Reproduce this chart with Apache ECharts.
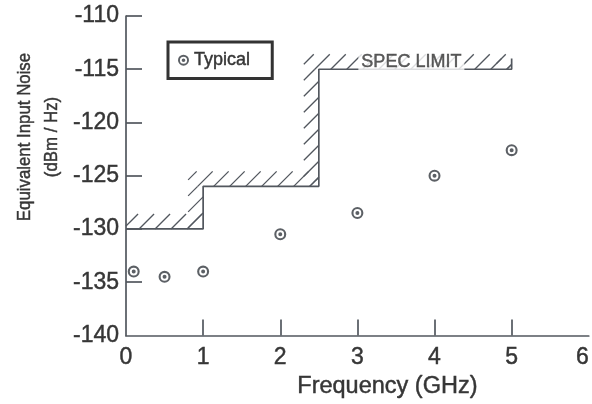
<!DOCTYPE html>
<html>
<head>
<meta charset="utf-8">
<script src="https://cdn.jsdelivr.net/npm/echarts@6/dist/echarts.min.js"></script>
<style>
  html, body { margin: 0; padding: 0; background: #ffffff; }
  #chart { width: 592px; height: 404px; }
</style>
</head>
<body>
<div id="chart"></div>
<script>
// Measured equivalent input noise (typical units)
const freqGHz = [0.1, 0.5, 1, 2, 3, 4, 5];
const noiseDbmHz = [-134, -134.5, -134, -130.5, -128.5, -125, -122.6];

// Specification limit, drawn as a stepped boundary
const specFreq = [0, 1, 1, 2.5, 2.5, 5, 5];
const specLimit = [-130, -130, -126, -126, -115, -115, -114];

// Axis tick values
const xTickValues = [0, 1, 2, 3, 4, 5, 6];
const yTickValues = [-140, -135, -130, -125, -120, -115, -110];

const FONT = '"Liberation Sans", Arial, Helvetica, sans-serif';
const TEXT = '#363636';
const LINE = '#52575e';
// a hair of outline gives the lettering a slightly heavier, printed look
const INK = { textBorderColor: TEXT, textBorderWidth: 0.45 };

// bullseye marker: outer ring, hollow middle, centre dot
const BULLSEYE = 'path://M0,6A6,6,0,1,1,12,6A6,6,0,1,1,0,6Z' +
  'M2.1,6A3.9,3.9,0,1,0,9.9,6A3.9,3.9,0,1,0,2.1,6Z' +
  'M4,6A2,2,0,1,1,8,6A2,2,0,1,1,4,6Z';

const specPoints = specFreq.map((f, i) => [f, specLimit[i]]);
const specSegments = [];
for (let i = 0; i < specPoints.length - 1; i++) {
  specSegments.push([specPoints[i][0], specPoints[i][1], specPoints[i + 1][0], specPoints[i + 1][1]]);
}

// Hatch band on the "failing" side (above / left) of each spec segment
const HATCH_W = 15;
const HATCH_STEP = 16;
function renderHatch(params, api) {
  const a = api.coord([api.value(0), api.value(1)]);
  const b = api.coord([api.value(2), api.value(3)]);
  const left = params.coordSys.x;
  let x0, x1, y0, y1;
  if (Math.abs(a[1] - b[1]) < 0.5) {
    x0 = Math.max(left, Math.min(a[0], b[0]) - HATCH_W);
    x1 = Math.max(a[0], b[0]);
    y0 = a[1] - HATCH_W;
    y1 = a[1];
  } else {
    x0 = a[0] - HATCH_W;
    x1 = a[0];
    y0 = Math.min(a[1], b[1]);
    y1 = Math.max(a[1], b[1]);
  }
  const children = [];
  const cStart = Math.ceil((x0 + y0) / HATCH_STEP) * HATCH_STEP;
  for (let c = cStart; c <= x1 + y1; c += HATCH_STEP) {
    const xs = Math.max(x0, c - y1);
    const xe = Math.min(x1, c - y0);
    if (xe > xs + 0.5) {
      children.push({
        type: 'line',
        shape: { x1: xs, y1: c - xs, x2: xe, y2: c - xe },
        style: { stroke: LINE, lineWidth: 1.3 }
      });
    }
  }
  return { type: 'group', children: children };
}

const chart = echarts.init(document.getElementById('chart'), null, { renderer: 'canvas' });

chart.setOption({
  backgroundColor: '#ffffff',
  animation: false,
  textStyle: { fontFamily: FONT },
  grid: { left: 126, right: 1, top: 16, bottom: 68 },
  legend: {
    left: 168,
    top: 42,
    data: [{ name: 'Typical', icon: BULLSEYE }],
    itemWidth: 11,
    itemHeight: 11,
    padding: [9, 22, 9, 10],
    borderColor: '#333333',
    borderWidth: 3,
    borderRadius: 0,
    backgroundColor: '#ffffff',
    textStyle: Object.assign({ fontFamily: FONT, fontSize: 18, color: TEXT }, INK),
    selectedMode: false
  },
  xAxis: {
    type: 'value',
    min: xTickValues[0],
    max: xTickValues[xTickValues.length - 1],
    interval: 1,
    name: 'Frequency (GHz)',
    nameLocation: 'middle',
    nameGap: 38,
    nameTextStyle: Object.assign({ fontFamily: FONT, fontSize: 23.5, color: TEXT,
      padding: [0, 0, 0, 60] }, INK),
    axisLine: { lineStyle: { color: LINE, width: 1.7 } },
    axisTick: { inside: true, length: 16, lineStyle: { color: LINE, width: 1.7 },
      customValues: xTickValues.slice(1, -1) },
    axisLabel: Object.assign({ fontFamily: FONT, fontSize: 23, color: TEXT, margin: 11,
      alignMaxLabel: 'right' }, INK),
    splitLine: { show: false }
  },
  yAxis: {
    type: 'value',
    min: yTickValues[0],
    max: yTickValues[yTickValues.length - 1],
    interval: 5,
    axisLine: { show: true, lineStyle: { color: LINE, width: 1.7 } },
    axisTick: { show: true, inside: true, length: 16, lineStyle: { color: LINE, width: 1.7 },
      customValues: yTickValues.slice(1) },
    axisLabel: Object.assign({ fontFamily: FONT, fontSize: 23, color: TEXT, margin: 7 }, INK),
    splitLine: { show: false }
  },
  graphic: [{
    type: 'text',
    x: 38,
    y: 137,
    rotation: Math.PI / 2,
    scaleX: 0.885,
    style: Object.assign({
      text: 'Equivalent Input Noise\n(dBm / Hz)',
      fontFamily: FONT,
      fontSize: 19,
      lineHeight: 27,
      fill: TEXT,
      stroke: TEXT,
      lineWidth: 0.45,
      align: 'center',
      verticalAlign: 'middle'
    })
  }],
  series: [
    {
      name: 'SpecHatch',
      type: 'custom',
      silent: true,
      z: 1,
      renderItem: renderHatch,
      data: specSegments
    },
    {
      name: 'Spec Limit',
      type: 'line',
      silent: true,
      z: 2,
      symbol: 'none',
      lineStyle: { color: LINE, width: 1.7 },
      data: specPoints
    },
    {
      name: 'SpecLabel',
      type: 'scatter',
      silent: true,
      z: 5,
      symbolSize: 0,
      data: [[3.7, -114.3]],
      label: Object.assign({
        show: true,
        position: 'inside',
        formatter: 'SPEC LIMIT',
        fontFamily: FONT,
        fontSize: 18,
        color: TEXT,
        backgroundColor: '#ffffff',
        padding: [1, 3]
      }, INK)
    },
    {
      name: 'Typical',
      type: 'scatter',
      z: 6,
      symbol: BULLSEYE,
      symbolSize: 12,
      itemStyle: { color: '#33383e' },
      data: freqGHz.map((f, i) => [f, noiseDbmHz[i]])
    }
  ]
});
</script>
</body>
</html>
